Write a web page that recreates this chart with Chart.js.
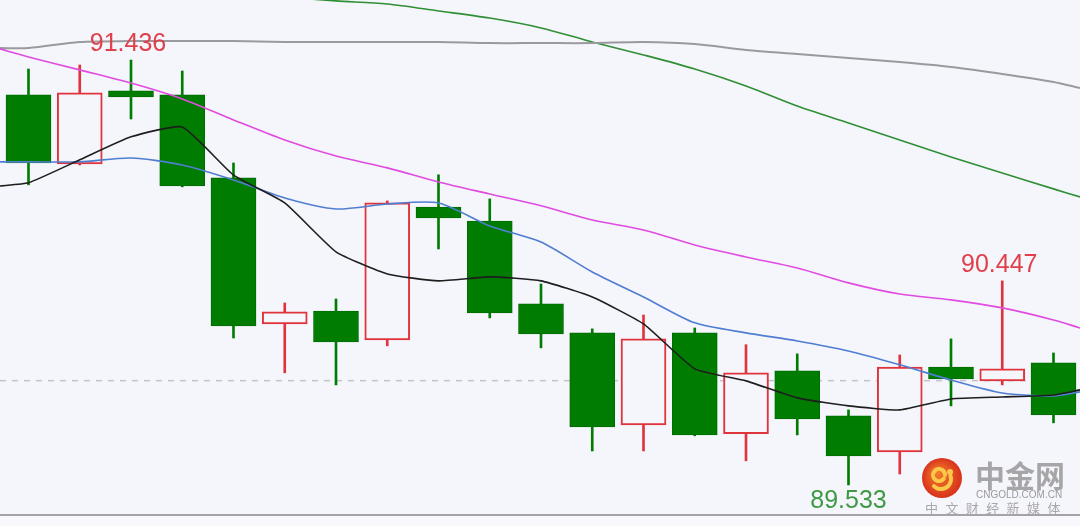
<!DOCTYPE html>
<html lang="zh">
<head>
  <meta charset="UTF-8" />
  <title>K线图</title>
  <script src="https://cdn.jsdelivr.net/npm/chart.js"></script>
  <style>
    * {
      box-sizing: border-box;
    }
    body {
      margin: 0;
      background-color: #f5f5fc;
      overflow: hidden;
    }
    #wrap {
      width: 1080px;
      height: 526px;
      position: relative;
    }
  </style>
</head>
<body>
  <div id="wrap">
    <canvas id="kChart" width="1080" height="526"></canvas>
  </div>

<script>
  // свечи: индекс, открытие, максимум, минимум, закрытие
  const candleIdx = [0, 1, 2, 3, 4, 5, 6, 7, 8, 9, 10, 11, 12, 13, 14, 15, 16, 17, 18, 19, 20];
  const opens  = [91.280, 90.971, 91.298, 91.280, 90.908, 90.254, 90.312, 90.183, 90.778, 90.715, 90.344, 90.214, 89.802, 90.214, 89.762, 90.044, 89.842, 89.681, 90.061, 89.999, 90.080];
  const highs  = [91.396, 91.414, 91.436, 91.387, 90.975, 90.348, 90.366, 90.805, 90.922, 90.814, 90.433, 90.232, 90.294, 90.236, 90.161, 90.120, 89.869, 90.115, 90.187, 90.447, 90.124];
  const lows   = [90.877, 90.966, 91.172, 90.868, 90.191, 90.035, 89.981, 90.156, 90.590, 90.281, 90.147, 89.685, 89.685, 89.753, 89.641, 89.757, 89.533, 89.582, 89.887, 89.981, 89.811];
  const closes = [90.975, 91.289, 91.271, 90.872, 90.245, 90.308, 90.174, 90.796, 90.729, 90.303, 90.209, 89.793, 90.187, 89.757, 90.035, 89.829, 89.663, 90.061, 90.008, 90.053, 89.847];

  // скользящие средние (первая и последняя точки - края окна)
  const lineX   = [-0.556, 0, 1, 2, 3, 4, 5, 6, 7, 8, 9, 10, 11, 12, 13, 14, 15, 16, 17, 18, 19, 20, 20.517];
  const maBlack = [90.872, 90.886, 90.989, 91.092, 91.136, 90.921, 90.796, 90.577, 90.478, 90.447, 90.465, 90.447, 90.375, 90.254, 90.053, 89.999, 89.923, 89.887, 89.869, 89.918, 89.927, 89.936, 89.959];
  const maBlue  = [90.980, 90.980, 90.980, 90.997, 90.966, 90.899, 90.818, 90.769, 90.791, 90.796, 90.693, 90.621, 90.487, 90.375, 90.259, 90.214, 90.178, 90.133, 90.071, 90.003, 89.945, 89.932, 89.950];
  const maPink  = [91.486, 91.450, 91.392, 91.333, 91.262, 91.168, 91.078, 91.006, 90.953, 90.890, 90.836, 90.783, 90.720, 90.675, 90.608, 90.554, 90.505, 90.438, 90.388, 90.362, 90.326, 90.272, 90.236];
  const maGray  = [91.490, 91.490, 91.517, 91.521, 91.521, 91.521, 91.517, 91.517, 91.517, 91.517, 91.512, 91.512, 91.512, 91.517, 91.508, 91.481, 91.463, 91.445, 91.427, 91.405, 91.374, 91.338, 91.311];
  const maGreen = [null, null, null, null, null, null, 91.718, 91.701, 91.687, 91.656, 91.624, 91.580, 91.517, 91.459, 91.396, 91.320, 91.230, 91.154, 91.078, 91.002, 90.930, 90.859, 90.823];

  const refPrice = 90.0;
  const priceMin = 89.349;
  const priceMax = 91.705;

  // подписи экстремумов: номер свечи и что подписываем
  const markIdx  = [2, 19, 16];
  const markKind = ['high', 'high', 'low'];

  const bgColor = '#f5f5fc';
  const upColor = '#e0343c';
  const downColor = '#007d00';

  const isUp = i => closes[i] > opens[i];

  function toPoints(ys) {
    return lineX.map((x, k) => ({ x: x, y: ys[k] }));
  }

  const extremaPlugin = {
    id: 'extrema',
    afterDatasetsDraw(chart) {
      const { ctx, scales } = chart;
      ctx.save();
      ctx.font = '25px "Liberation Sans", Arial, sans-serif';
      ctx.textAlign = 'center';
      markIdx.forEach((i, k) => {
        const x = scales.x.getPixelForValue(i);
        if (markKind[k] === 'high') {
          const y = scales.y.getPixelForValue(highs[i]);
          ctx.fillStyle = '#e0404a';
          ctx.textBaseline = 'bottom';
          ctx.fillText(highs[i].toFixed(3), x - 3, y - 3);
        } else {
          const y = scales.y.getPixelForValue(lows[i]);
          ctx.fillStyle = '#3f9a45';
          ctx.textBaseline = 'top';
          ctx.fillText(lows[i].toFixed(3), x, y + 4);
        }
      });
      ctx.restore();
    }
  };

  const frameLogoPlugin = {
    id: 'frameLogo',
    afterDraw(chart) {
      const ctx = chart.ctx;
      ctx.save();
      // нижняя граница
      ctx.fillStyle = '#a3a3a8';
      ctx.fillRect(0, 514, 1080, 2);
      ctx.fillStyle = '#f8f8fc';
      ctx.fillRect(0, 516, 1080, 10);

      // логотип
      const cx = 942, cy = 478, r = 20;
      const grad = ctx.createRadialGradient(cx - 5, cy - 6, 2, cx, cy, r);
      grad.addColorStop(0, '#f07a2a');
      grad.addColorStop(1, '#d8321c');
      ctx.fillStyle = grad;
      ctx.beginPath();
      ctx.arc(cx, cy, r, 0, Math.PI * 2);
      ctx.fill();
      ctx.strokeStyle = '#fbc84a';
      ctx.lineWidth = 4;
      ctx.lineCap = 'round';
      ctx.beginPath();
      ctx.arc(cx - 3, cy - 3, 6, Math.PI * 0.2, Math.PI * 2.0);
      ctx.stroke();
      ctx.beginPath();
      ctx.arc(cx - 1, cy + 1, 10, -Math.PI * 0.1, Math.PI * 0.75);
      ctx.stroke();
      ctx.fillStyle = '#fbc84a';
      ctx.beginPath();
      ctx.arc(cx + 8, cy - 6, 3, 0, Math.PI * 2);
      ctx.fill();

      ctx.fillStyle = '#a6a6a8';
      ctx.textAlign = 'left';
      ctx.textBaseline = 'alphabetic';
      ctx.font = 'bold 30px "Noto Sans CJK SC", sans-serif';
      ctx.fillText('中金网', 975, 487);
      ctx.font = '10px "Liberation Sans", Arial, sans-serif';
      ctx.fillStyle = '#9a9a9e';
      ctx.fillText('CNGOLD.COM.CN', 976, 498);
      ctx.font = '13px "Noto Sans CJK SC", sans-serif';
      ctx.fillStyle = '#a8a8ac';
      const words = ['中', '文', '财', '经', '新', '媒', '体'];
      words.forEach((w, k) => ctx.fillText(w, 925 + k * 20.4, 513));
      ctx.restore();
    }
  };

  const ctx = document.getElementById('kChart').getContext('2d');

  new Chart(ctx, {
    type: 'bar',
    data: {
      datasets: [
        {
          type: 'line',
          data: toPoints(maBlack),
          borderColor: '#1e1e1e',
          borderWidth: 1.6,
          pointRadius: 0,
          tension: 0.15,
          order: 0
        },
        {
          type: 'line',
          data: toPoints(maBlue),
          borderColor: '#4f7ed0',
          borderWidth: 1.6,
          pointRadius: 0,
          tension: 0.25,
          order: 0
        },
        {
          type: 'line',
          data: toPoints(maPink),
          borderColor: '#e04be0',
          borderWidth: 1.6,
          pointRadius: 0,
          tension: 0.3,
          order: 0
        },
        {
          type: 'line',
          data: toPoints(maGray),
          borderColor: '#9a9a9e',
          borderWidth: 2,
          pointRadius: 0,
          tension: 0.3,
          order: 0
        },
        {
          type: 'line',
          data: toPoints(maGreen),
          borderColor: '#2f8f34',
          borderWidth: 1.6,
          pointRadius: 0,
          tension: 0.3,
          spanGaps: false,
          order: 0
        },
        {
          type: 'line',
          data: [{ x: lineX[0], y: refPrice }, { x: lineX[lineX.length - 1], y: refPrice }],
          borderColor: '#c4c4c8',
          borderWidth: 1.5,
          borderDash: [6, 6],
          pointRadius: 0,
          order: 3
        },
        {
          // тела свечей
          data: candleIdx.map(i => ({ x: i, y: [opens[i], closes[i]] })),
          backgroundColor: candleIdx.map(i => isUp(i) ? bgColor : downColor),
          borderColor: candleIdx.map(i => isUp(i) ? upColor : '#006c00'),
          borderWidth: candleIdx.map(i => isUp(i) ? 2 : 1),
          borderSkipped: false,
          barThickness: 45,
          grouped: false,
          order: 1
        },
        {
          // тени
          data: candleIdx.map(i => ({ x: i, y: [lows[i], highs[i]] })),
          backgroundColor: candleIdx.map(i => isUp(i) ? upColor : downColor),
          borderWidth: 0,
          barThickness: 2,
          grouped: false,
          order: 2
        }
      ]
    },
    options: {
      responsive: false,
      animation: false,
      devicePixelRatio: 1,
      layout: { padding: 0 },
      scales: {
        x: {
          type: 'linear',
          min: lineX[0],
          max: lineX[lineX.length - 1],
          offset: false,
          display: false
        },
        y: {
          min: priceMin,
          max: priceMax,
          display: false
        }
      },
      plugins: {
        legend: { display: false },
        tooltip: { enabled: false }
      }
    },
    plugins: [extremaPlugin, frameLogoPlugin]
  });
</script>
</body>
</html>
